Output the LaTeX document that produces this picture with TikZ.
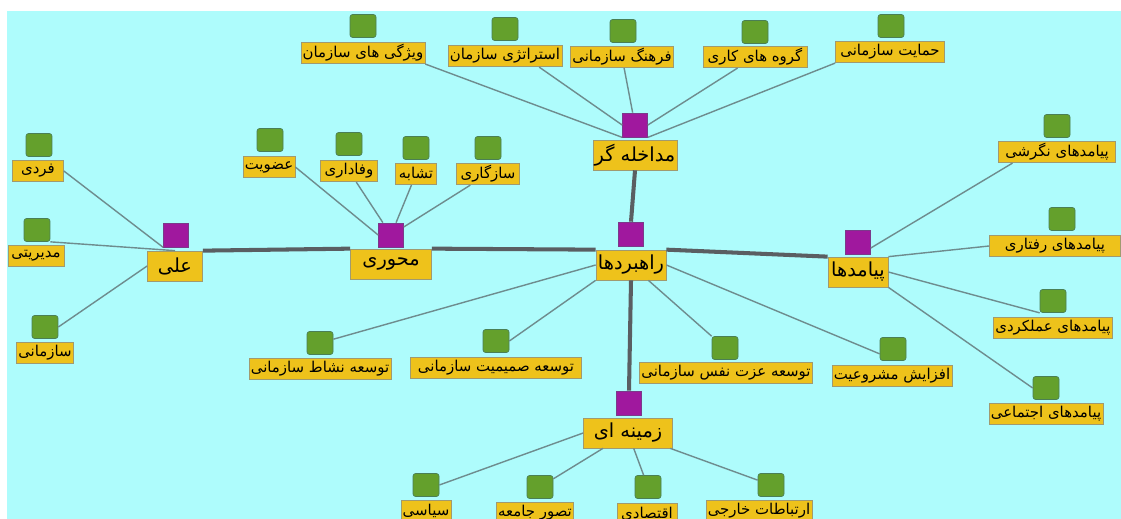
\documentclass[tikz,border=0pt]{standalone}
\usepackage{fontspec}
\newfontfamily\farsifont[Script=Arabic]{DejaVu Sans}
\TeXXeTstate=1

\definecolor{fondo}{HTML}{AEFCFC}
\definecolor{amarillo}{HTML}{EEC21B}
\definecolor{bordeam}{HTML}{A09A70}
\definecolor{verde}{HTML}{64A02C}
\definecolor{bordeve}{HTML}{4A7F55}
\definecolor{morado}{HTML}{A0189E}
\definecolor{bordemo}{HTML}{7A3A8A}
\definecolor{linea}{HTML}{6E8C8E}
\definecolor{lineagr}{HTML}{5A5E62}

\tikzset{
  lbl/.style={draw=bordeam, fill=amarillo, inner sep=1pt, minimum height=0.43cm,
    font=\farsifont\fontsize{8.5}{10}\selectfont,
    execute at begin node=\beginR, execute at end node=\endR},
  hub/.style={lbl, minimum height=0.6cm, font=\farsifont\fontsize{11}{13}\selectfont},
  ancho/.style={minimum width=#1*0.02cm},
  hoja/.style={draw=bordeve, fill=verde, rounded corners=1.5pt, inner sep=0pt,
    minimum width=0.52cm, minimum height=0.46cm},
  nudo/.style={draw=bordemo, fill=morado, inner sep=0pt,
    minimum width=0.5cm, minimum height=0.48cm},
  fino/.style={draw=linea, line width=0.8pt},
  grueso/.style={draw=lineagr, line width=2.3pt}
}

\begin{document}
\begin{tikzpicture}[x=0.02cm, y=-0.02cm]
\useasboundingbox (0,0) rectangle (1121,519);
\fill[fondo] (7,11) rectangle (1121,519);

% Nodos centrales
\node[nudo] (mdkP) at (635,125) {};
\node[hub, ancho=77] (mdk) at (635,155) {مداخله گر};
\node[nudo] (rahbP) at (631,234) {};
\node[hub, ancho=70] (rahb) at (631,265) {راهبردها};
\node[nudo] (mehvP) at (391,235) {};
\node[hub, ancho=81] (mehv) at (391,264) {محوری};
\node[nudo] (aliP) at (176,235) {};
\node[hub, ancho=55] (ali) at (175,266) {علی};
\node[nudo] (payP) at (858,242) {};
\node[hub, ancho=60] (pay) at (858,272) {پیامدها};
\node[nudo] (zamP) at (629,403) {};
\node[hub, ancho=89] (zam) at (628,433) {زمینه ای};

% Mداخله گر
\node[hoja] (vizhG) at (363,26) {};
\node[lbl, ancho=116] (vizh) at (363,53) {ویژگی های سازمان};
\node[hoja] (estrG) at (505,29) {};
\node[lbl, ancho=109] (estr) at (505,56) {استراتژی سازمان};
\node[hoja] (farhG) at (623,31) {};
\node[lbl, ancho=102] (farh) at (622,57) {فرهنگ سازمانی};
\node[hoja] (goroG) at (755,32) {};
\node[lbl, ancho=104] (goro) at (755,57) {گروه های کاری};
\node[hoja] (hemaG) at (891,26) {};
\node[lbl, ancho=109] (hema) at (890,52) {حمایت سازمانی};

% علی
\node[hoja] (fardG) at (39,145) {};
\node[lbl, ancho=51] (fard) at (38,171) {فردی};
\node[hoja] (modiG) at (37,230) {};
\node[lbl, ancho=56] (modi) at (36,256) {مدیریتی};
\node[hoja] (sazG) at (45,327) {};
\node[lbl, ancho=48] (saz) at (45,353) {سازمانی};

% محوری
\node[hoja] (ozvG) at (270,140) {};
\node[lbl, ancho=49] (ozv) at (269,167) {عضویت};
\node[hoja] (vafaG) at (349,144) {};
\node[lbl, ancho=57] (vafa) at (349,171) {وفاداری};
\node[hoja] (tashG) at (416,148) {};
\node[lbl, ancho=41] (tash) at (416,174) {تشابه};
\node[hoja] (sazgG) at (488,148) {};
\node[lbl, ancho=63] (sazg) at (488,174) {سازگاری};

% راهبردها
\node[hoja] (nashG) at (320,343) {};
\node[lbl, ancho=140] (nash) at (320,369) {توسعه نشاط سازمانی};
\node[hoja] (samiG) at (496,341) {};
\node[lbl, ancho=171] (sami) at (496,368) {توسعه صمیمیت سازمانی};
\node[hoja] (ezatG) at (725,348) {};
\node[lbl, ancho=171] (ezat) at (726,373) {توسعه عزت نفس سازمانی};
\node[hoja] (afzaG) at (893,349) {};
\node[lbl, ancho=119] (afza) at (892,376) {افزایش مشروعیت};

% زمینه ای
\node[hoja] (siyaG) at (426,485) {};
\node[lbl, ancho=49] (siya) at (426,511) {سیاسی};
\node[hoja] (tasaG) at (540,487) {};
\node[lbl, ancho=77] (tasa) at (535,513) {تصور جامعه};
\node[hoja] (eqteG) at (648,487) {};
\node[lbl, ancho=60] (eqte) at (647,514) {اقتصادی};
\node[hoja] (ertbG) at (771,485) {};
\node[lbl, ancho=102] (ertb) at (759,511) {ارتباطات خارجی};

% پیامدها
\node[hoja] (negrG) at (1057,126) {};
\node[lbl, ancho=117] (negr) at (1057,152) {پیامدهای نگرشی};
\node[hoja] (raftG) at (1062,219) {};
\node[lbl, ancho=131] (raft) at (1055,246) {پیامدهای رفتاری};
\node[hoja] (amalG) at (1053,301) {};
\node[lbl, ancho=112] (amal) at (1053,328) {پیامدهای عملکردی};
\node[hoja] (ejteG) at (1046,388) {};
\node[lbl, ancho=114] (ejte) at (1046,414) {پیامدهای اجتماعی};

% Aristas gruesas
\draw[grueso] (mdk.south) -- (rahbP.north);
\draw[grueso] (rahb.south) -- (zamP.north);
\draw[grueso] (ali.north east) -- (mehv.north west);
\draw[grueso] (mehv.north east) -- (rahb.north west);
\draw[grueso] (rahb.north east) -- (pay.north west);

% Aristas finas
\foreach \from/\to in {vizh.south east/mdkP.south west, estr.-18/mdkP.west,
    farh/mdkP, goro/mdkP.east, hema.south west/mdkP.south east,
    fard.east/aliP.south west, modiG.south east/ali.north, sazG.east/ali.west,
    ozv.east/mehvP.west, vafa/mehvP, tash/mehvP, sazg/mehvP,
    rahb.west/nashG, rahb.south west/samiG.east, rahb/ezatG, rahb.east/afzaG.200,
    zam.west/siyaG.east, zam/tasaG, zam/eqteG, zam/ertbG,
    payP.-25/negr.194, pay.north east/raft.west, pay.east/amalG.south west,
    pay.south east/ejteG.west}
  \draw[fino] (\from) -- (\to);

\end{tikzpicture}
\end{document}
